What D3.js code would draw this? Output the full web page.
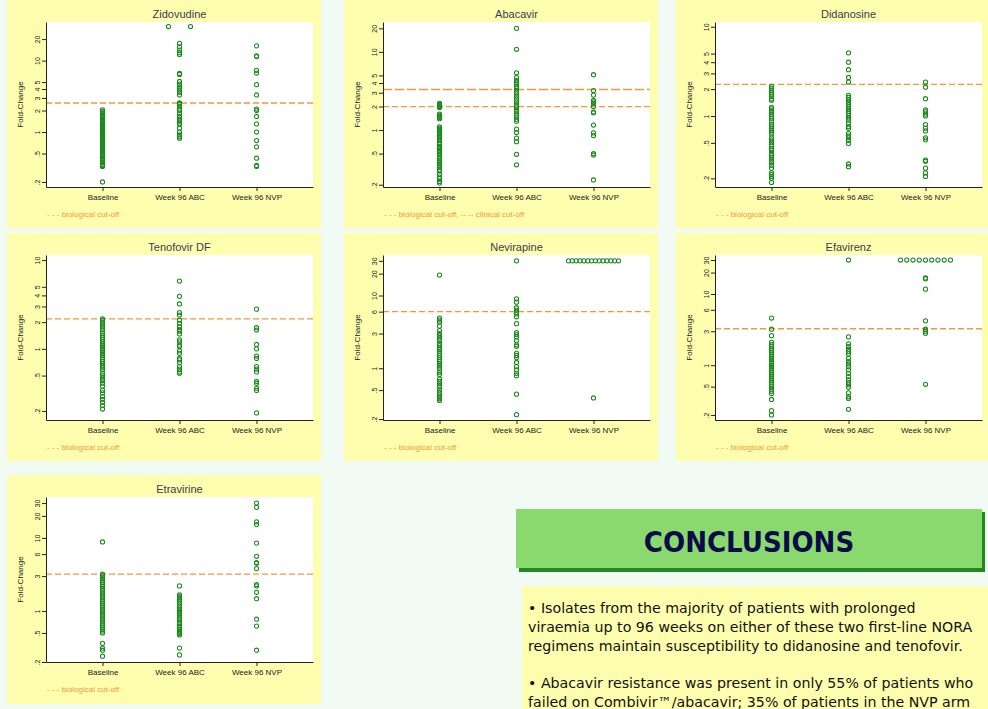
<!DOCTYPE html>
<html><head><meta charset="utf-8">
<script src="https://cdn.jsdelivr.net/npm/d3@7/dist/d3.min.js"></script>
<style>body{margin:0;background:#f2fbf3;} svg{display:block}</style>
</head><body><svg id="c" width="988" height="709"></svg>
<script>
// ---------- DATA ----------
const categories = ["Baseline", "Week 96 ABC", "Week 96 NVP"];
const capValue = 30;

const ticksLow20 = [0.2, 0.5, 1, 2, 3, 4, 5, 10, 20];
const ticksLow10 = [0.2, 0.5, 1, 2, 3, 4, 5, 10];
const ticksNNRTI = [0.2, 0.5, 1, 3, 6, 10, 20, 30];

// Zidovudine
const zdvBaseline = [2.05,1.95,1.85,1.78,1.7,1.65,1.6,1.52,1.47,1.42,1.38,1.33,1.28,1.24,1.2,1.16,1.12,1.08,1.05,1.02,0.99,0.96,0.93,0.9,0.87,0.84,0.81,0.78,0.75,0.73,0.7,0.68,0.66,0.63,0.61,0.59,0.57,0.55,0.53,0.51,0.49,0.47,0.45,0.43,0.41,0.4,0.38,0.37,0.35,0.34,0.33,0.2];
const zdvABC = [30,30,17.4,15.6,14,12.9,12.2,6.6,6.4,5.1,4.7,4.3,4.1,3.9,3.6,3.3,2.55,2.5,2.45,2.3,2.1,2.0,1.8,1.65,1.52,1.42,1.33,1.28,1.13,1.0,0.91,0.86,0.82];
const zdvNVP = [16.1,11.6,11.4,7.3,6.7,4.6,3.3,2.1,2.0,1.65,1.3,1.0,0.76,0.62,0.43,0.34,0.33];
const zdvDomain = [0.17, 34.7];
const zdvCutoffs = [2.55];

// Abacavir
const abcBaseline = [2.2,2.15,2.1,2.05,2.0,1.95,1.6,1.55,1.5,1.45,1.4,1.1,1.06,1.02,0.98,0.94,0.9,0.86,0.83,0.8,0.77,0.74,0.68,0.65,0.62,0.6,0.58,0.55,0.53,0.51,0.49,0.45,0.43,0.41,0.39,0.37,0.35,0.33,0.31,0.3,0.27,0.25,0.24,0.22,0.21];
const abcABC = [20,10.8,5.4,4.7,4.3,4.1,3.9,3.6,3.4,3.15,2.9,2.7,2.5,2.3,2.15,2.0,1.85,1.73,1.6,1.48,1.38,1.3,1.03,0.93,0.79,0.71,0.49,0.36];
const abcNVP = [5.1,3.2,2.8,2.4,2.3,2.2,2.0,1.7,1.66,1.16,0.92,0.85,0.5,0.48,0.23];
const abcDomain = [0.187, 24.1];
const abcCutoffs = [2.0, 3.3]; // biological, clinical

// Didanosine
const ddiBaseline = [2.15,2.05,1.95,1.85,1.75,1.65,1.55,1.5,1.25,1.2,1.14,1.09,1.04,0.99,0.94,0.88,0.81,0.77,0.73,0.69,0.66,0.63,0.57,0.54,0.51,0.48,0.46,0.43,0.41,0.38,0.36,0.34,0.32,0.3,0.28,0.26,0.23,0.22,0.21,0.2,0.18];
const ddiABC = [5.1,4.0,3.3,2.7,2.4,1.7,1.62,1.53,1.43,1.34,1.27,1.2,1.13,1.07,1.01,0.95,0.9,0.83,0.76,0.73,0.64,0.6,0.57,0.53,0.49,0.29,0.27];
const ddiNVP = [2.4,2.1,1.56,1.17,1.12,1.05,1.0,0.8,0.73,0.68,0.57,0.54,0.32,0.31,0.26,0.23,0.21];
const ddiDomain = [0.16, 11.3];
const ddiCutoffs = [2.26];

// Tenofovir DF
const tdfBaseline = [2.18,2.1,2.0,1.9,1.8,1.72,1.64,1.5,1.42,1.35,1.28,1.2,1.14,1.1,1.05,1.0,0.96,0.92,0.88,0.84,0.8,0.76,0.72,0.68,0.64,0.61,0.58,0.53,0.5,0.47,0.44,0.41,0.38,0.34,0.32,0.29,0.27,0.25,0.23,0.21];
const tdfABC = [5.8,3.9,3.2,2.56,2.4,2.1,1.94,1.78,1.66,1.58,1.47,1.26,1.2,1.1,1.06,0.95,0.89,0.78,0.75,0.7,0.63,0.59,0.55,0.53];
const tdfNVP = [2.8,1.73,1.63,1.12,1.0,0.83,0.78,0.63,0.59,0.55,0.43,0.41,0.36,0.34,0.19];
const tdfDomain = [0.158, 11.4];
const tdfCutoffs = [2.17];

// Nevirapine
const nvpBaseline = [19.1,4.9,4.6,4.3,3.8,3.3,3.0,2.8,2.6,2.4,2.2,2.05,1.9,1.8,1.7,1.6,1.5,1.4,1.32,1.24,1.16,1.1,1.04,0.98,0.88,0.82,0.71,0.66,0.61,0.57,0.55,0.5,0.46,0.43,0.4,0.38,0.36];
const nvpABC = [30,9.0,8.1,6.8,6.3,5.9,5.6,5.1,4.1,3.1,2.9,2.7,2.4,2.1,2.0,1.6,1.5,1.4,1.2,1.05,0.95,0.85,0.79,0.44,0.23];
const nvpNVP = [30,30,30,30,30,30,30,30,30,30,30,30,30,30,0.39];
const nvpDomain = [0.194, 36.1];
const nvpCutoffs = [6.0];

// Efavirenz
const efvBaseline = [4.6,3.2,2.6,2.1,1.95,1.82,1.7,1.6,1.5,1.42,1.34,1.26,1.19,1.12,1.06,1.0,0.95,0.9,0.85,0.8,0.75,0.7,0.66,0.62,0.58,0.54,0.5,0.46,0.43,0.4,0.33,0.23,0.2];
const efvABC = [30,2.5,2.0,1.83,1.67,1.55,1.44,1.25,1.12,1.04,0.95,0.86,0.77,0.69,0.62,0.57,0.53,0.49,0.41,0.36,0.34,0.24];
const efvNVP = [30,30,30,30,30,30,30,30,30,16.8,16.4,11.7,4.2,3.2,3.0,2.8,0.54];
const efvDomain = [0.17, 35.3];
const efvCutoffs = [3.25];

// Etravirine
const etrBaseline = [8.8,3.2,3.05,2.9,2.75,2.6,2.45,2.3,2.15,2.0,1.88,1.76,1.65,1.55,1.45,1.36,1.28,1.2,1.13,1.06,1.0,0.94,0.88,0.83,0.78,0.73,0.68,0.64,0.6,0.56,0.53,0.5,0.36,0.31,0.29,0.24];
const etrABC = [2.2,1.66,1.6,1.52,1.45,1.37,1.28,1.17,1.1,1.05,1.0,0.96,0.92,0.87,0.8,0.75,0.7,0.67,0.62,0.59,0.56,0.53,0.51,0.49,0.47,0.31,0.25];
const etrNVP = [30,26.2,16.6,15.2,8.5,5.6,4.6,4.5,3.8,2.3,2.2,1.8,1.47,0.77,0.62,0.29];
const etrDomain = [0.2, 36.3];
const etrCutoffs = [3.2];

const panelTitles = ["Zidovudine","Abacavir","Didanosine","Tenofovir DF","Nevirapine","Efavirenz","Etravirine"];
const legendBio = "- - - biological cut-off";
const legendBioClin = "- - - biological cut-off, -- -- clinical cut-off";

const conclusionsTitle = "CONCLUSIONS";
const conclusionLines = [
  "\u2022 Isolates from the majority of patients with prolonged",
  "viraemia up to 96 weeks on either of these two first-line NORA",
  "regimens maintain susceptibility to didanosine and tenofovir.",
  "",
  "\u2022 Abacavir resistance was present in only 55% of patients who",
  "failed on Combivir\u2122/abacavir; 35% of patients in the NVP arm"
];

// ---------- DRAW ----------
const svg = d3.select("#c");
svg.append("rect").attr("width",988).attr("height",709).attr("fill","#f2fbf3");

const panels = [
  {title:panelTitles[0], groups:[zdvBaseline,zdvABC,zdvNVP], ticks:ticksLow20, domain:zdvDomain, cut:zdvCutoffs, legend:legendBio},
  {title:panelTitles[1], groups:[abcBaseline,abcABC,abcNVP], ticks:ticksLow20, domain:abcDomain, cut:abcCutoffs, legend:legendBioClin},
  {title:panelTitles[2], groups:[ddiBaseline,ddiABC,ddiNVP], ticks:ticksLow10, domain:ddiDomain, cut:ddiCutoffs, legend:legendBio},
  {title:panelTitles[3], groups:[tdfBaseline,tdfABC,tdfNVP], ticks:ticksLow10, domain:tdfDomain, cut:tdfCutoffs, legend:legendBio},
  {title:panelTitles[4], groups:[nvpBaseline,nvpABC,nvpNVP], ticks:ticksNNRTI, domain:nvpDomain, cut:nvpCutoffs, legend:legendBio},
  {title:panelTitles[5], groups:[efvBaseline,efvABC,efvNVP], ticks:ticksNNRTI, domain:efvDomain, cut:efvCutoffs, legend:legendBio},
  {title:panelTitles[6], groups:[etrBaseline,etrABC,etrNVP], ticks:ticksNNRTI, domain:etrDomain, cut:etrCutoffs, legend:legendBio}
];

const colX = [7, 344, 676], colW = [314, 314, 312];
const rowY = [0, 233, 475], rowH = [228, 228, 229];
const plotL = 39, plotR = 306, plotT = 22, plotB = 187;
const font = "'Liberation Sans', Arial, sans-serif";
const green = "#1d8a1d", orange = "#f5973a", yellow = "#fefeae";

const fmt = v => v < 1 ? String(v).replace(/^0/, "") : String(v);

panels.forEach((p, i) => {
  const c = i % 3, r = Math.floor(i / 3);
  const g = svg.append("g").attr("transform", `translate(${colX[c]},${rowY[r]})`);
  g.append("rect").attr("width", colW[c]).attr("height", rowH[r]).attr("fill", yellow);
  g.append("rect").attr("x", plotL).attr("y", plotT).attr("width", plotR - plotL).attr("height", plotB - plotT).attr("fill", "#fff");

  const y = d3.scaleLog().domain(p.domain).range([plotB, plotT]);
  const x = d3.scalePoint().domain(categories).range([plotL, plotR]).padding(0.734);

  // cut-off lines
  p.cut.forEach((v, k) => {
    g.append("line").attr("x1", plotL).attr("x2", plotR).attr("y1", y(v)).attr("y2", y(v))
      .attr("stroke", orange).attr("stroke-width", 1.3)
      .attr("stroke-dasharray", k === 0 ? "6,3" : "9,3");
  });

  // points
  p.groups.forEach((vals, gi) => {
    const nCap = vals.filter(v => v >= capValue).length;
    const spacing = nCap > 1 ? Math.min(22, 50 / (nCap - 1)) : 0;
    let k = 0;
    const pts = vals.map(v => {
      let dx = 0;
      if (v >= capValue && nCap > 1) { dx = (k - (nCap - 1) / 2) * spacing; k++; }
      return {v, dx};
    });
    g.append("g").selectAll("circle").data(pts).join("circle")
      .attr("cx", d => x(categories[gi]) + d.dx)
      .attr("cy", d => y(d.v))
      .attr("r", 2.1)
      .attr("fill", "none")
      .attr("stroke", green)
      .attr("stroke-width", 1.05);
  });

  // y axis
  const ya = g.append("g").attr("transform", `translate(${plotL},0)`)
    .call(d3.axisLeft(y).tickValues(p.ticks).tickFormat(fmt).tickSize(4).tickSizeOuter(0));
  ya.select(".domain").attr("stroke", "#222");
  ya.selectAll(".tick line").attr("stroke", "#222");
  ya.selectAll(".tick text").attr("x", null).attr("dy", null)
    .attr("transform", "translate(-6.5,0) rotate(-90)")
    .attr("text-anchor", "middle").attr("font-family", font).attr("font-size", 7).attr("fill", "#222");

  // x axis
  const xa = g.append("g").attr("transform", `translate(0,${plotB})`)
    .call(d3.axisBottom(x).tickSize(4).tickSizeOuter(0));
  xa.select(".domain").attr("stroke", "#222");
  xa.selectAll(".tick line").attr("stroke", "#222");
  xa.selectAll(".tick text").attr("font-family", font).attr("font-size", 8).attr("fill", "#222");

  // axis title
  g.append("text").attr("transform", `translate(16,${(plotT + plotB) / 2}) rotate(-90)`)
    .attr("text-anchor", "middle").attr("font-family", font).attr("font-size", 8).attr("fill", "#222")
    .text("Fold-Change");

  // title
  g.append("text").attr("x", (plotL + plotR) / 2).attr("y", 18).attr("text-anchor", "middle")
    .attr("font-family", font).attr("font-size", 11).attr("fill", "#3a3c52").text(p.title);

  // legend
  g.append("text").attr("x", 40).attr("y", 217).attr("font-family", font).attr("font-size", 8)
    .attr("fill", orange).text(p.legend);
});

// conclusions
svg.append("rect").attr("x", 519).attr("y", 512).attr("width", 466).attr("height", 60).attr("fill", "#1f8a1f");
svg.append("rect").attr("x", 516).attr("y", 509).attr("width", 466).attr("height", 59).attr("fill", "#8ad96f");
svg.append("text").attr("x", 749).attr("y", 552).attr("text-anchor", "middle")
  .attr("font-family", "'DejaVu Sans Condensed', 'DejaVu Sans', sans-serif").attr("font-weight", "bold")
  .attr("font-size", 29).attr("fill", "#0b0b4a").text(conclusionsTitle);

svg.append("rect").attr("x", 522).attr("y", 586).attr("width", 470).attr("height", 130).attr("fill", yellow);
conclusionLines.forEach((t, i) => {
  svg.append("text").attr("x", 528).attr("y", 613 + i * 18.8)
    .attr("font-family", "'DejaVu Sans', sans-serif")
    .attr("font-size", 14.2).attr("fill", "#111").text(t);
});
</script></body></html>
